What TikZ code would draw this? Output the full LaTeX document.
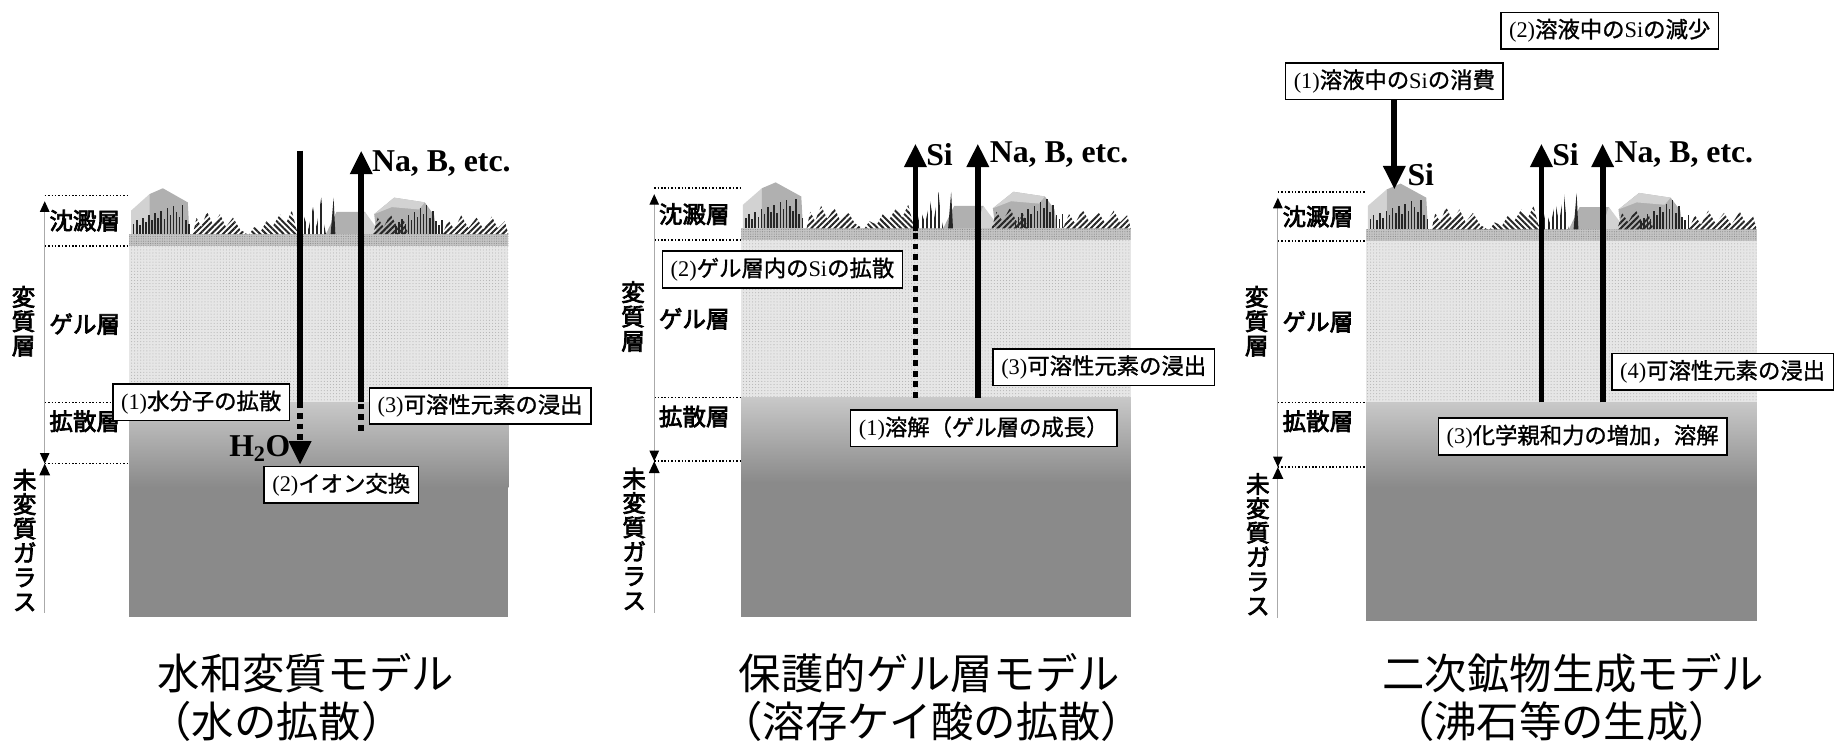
\documentclass[tikz,border=0pt]{standalone}
\usepackage{fontspec}
\setmainfont{Liberation Serif}
\newfontfamily\jp{Noto Sans CJK JP}
\newfontfamily\jpmid[FakeBold=1.2]{Noto Sans CJK JP}
\newfontfamily\jpthick[FakeBold=3]{Noto Sans CJK JP}
\usetikzlibrary{arrows.meta,patterns.meta}

\definecolor{gelgray}{RGB}{230,230,230}
\definecolor{crustgray}{RGB}{196,196,196}
\definecolor{difftop}{RGB}{200,200,200}
\definecolor{glassgray}{RGB}{138,138,138}
\definecolor{xtallight}{RGB}{210,210,210}
\definecolor{xtaldark}{RGB}{176,176,176}
\definecolor{scalegray}{RGB}{170,170,170}

\tikzset{
  zonelabel/.style={font=\jpthick\fontsize{20}{21}\selectfont, inner sep=0pt},
  zonecolumn/.style={font=\jpthick\fontsize{20}{20.7}\selectfont, align=center, inner sep=0pt},
  procbox/.style={draw, fill=white, line width=1.4pt, inner xsep=7pt,
    minimum height=31pt, font=\fontsize{19}{21}\selectfont},
  elem/.style={font=\bfseries\fontsize{27}{29}\selectfont, inner sep=0pt},
  modeltitle/.style={font=\jp\fontsize{36}{40}\selectfont, inner sep=0pt},
  flow/.style={line width=5pt},
  leak/.style={line width=5pt, dash pattern=on 5pt off 4pt},
  headed/.style={-{Triangle[width=18pt,length=20pt]}},
  guide/.style={line width=1.3pt, dash pattern=on 1.3pt off 1.6pt},
  scaleline/.style={draw=scalegray, line width=1pt},
  needle/.style={fill=black!85},
  tuft/.style={pattern={Lines[angle=#1,distance=3.5pt,line width=1.7pt]}, pattern color=black!85},
}

% crust of secondary minerals, drawn from the left end of the gel surface
\newcommand{\sedimentcrust}{%
  \fill[xtallight] (1.4,-10) -- (1.4,-30) -- (17,-44) -- (17,-10) -- cycle;
  \fill[xtaldark] (17,-44) -- (28.4,-49) -- (49.6,-37) -- (51,-10) -- (17,-10) -- cycle;
  \fill[xtaldark] (167,-10) -- (176,-29) -- (200,-29) -- (212,-10) -- cycle;
  \fill[xtallight] (200,-29) -- (214,-10) -- (194,-10) -- cycle;
  \fill[xtaldark] (210,-10) -- (208,-27) -- (225,-41) -- (251,-37) -- (259,-26) -- (261,-10) -- cycle;
  \fill[xtallight] (208,-27) -- (225,-41) -- (251,-37) -- (246,-31) -- (223,-33) -- cycle;
  \foreach \nx/\nh in {3/9,5.6/12,8.2/8,10.8/14,13.4/10,16/16,18.6/12,21.2/18,23.8/14,26.4/20,
      29/13,31.6/22,34.2/16,36.8/24,39.4/19,42/15,44.6/25,47.2/12,49.8/9}
    \fill[needle] (\nx,-10) rectangle ++(1.3,-\nh);
  \foreach \nx/\nh in {226/7,228.6/10,231.2/13,233.8/9,236.4/16,239/12,241.6/19,244.2/15,
      246.8/22,249.4/17,252/25,254.6/14,257.2/20,259.8/11,262.4/8,265/12}
    \fill[needle] (\nx,-10) rectangle ++(1.3,-\nh);
  \fill[tuft=45] (54,-10) -- (57,-24) -- (61,-16) -- (66,-29) -- (71,-18) -- (77,-27)
    -- (82,-16) -- (88,-24) -- (94,-14) -- (100,-10) -- cycle;
  \fill[tuft=-45] (102,-10) -- (106,-16) -- (112,-13) -- (117,-22) -- (122,-17) -- (128,-27)
    -- (133,-19) -- (138,-30) -- (142,-14) -- (145,-10) -- cycle;
  \fill[tuft=90] (145,-10) -- (148,-26) -- (152,-14) -- (156,-33) -- (159,-16) -- (163,-41)
    -- (165,-20) -- (167,-10) -- cycle;
  \fill[needle] (171,-10) -- (173.5,-41) -- (175,-10) -- cycle;
  \fill[tuft=45] (207,-10) -- (211,-24) -- (216,-16) -- (222,-27) -- (228,-15) -- (233,-22)
    -- (237,-10) -- cycle;
  \fill[tuft=45] (266,-10) -- (271,-22) -- (276,-14) -- (282,-26) -- (288,-15) -- (295,-24)
    -- (301,-14) -- (308,-25) -- (313,-15) -- (319,-21) -- (322,-10) -- cycle;
}

\begin{document}
\begin{tikzpicture}[x=1pt, y=-1pt]
\useasboundingbox (0,0) rectangle (1568,631);

% three glass columns with their layers, crust and depth scale
\foreach \pid/\axx/\colx/\colw/\ytop/\ygel/\ydif/\yglass/\ybot in
  {a/38/110/322/166/209/342/394/524,
   b/556/630/331/160/204/338/392/524,
   c/1086/1161/332/163/205/342/397/528}{
  \fill[crustgray] (\colx,\ygel-10) rectangle (\colx+\colw,\ygel);
  \fill[pattern={Dots[distance=2pt,radius=0.5pt]}, pattern color=black!45]
    (\colx,\ygel-10) rectangle (\colx+\colw,\ygel);
  \fill[gelgray] (\colx,\ygel) rectangle (\colx+\colw,\ydif);
  \fill[pattern={Dots[distance=2.6pt,radius=0.45pt]}, pattern color=black!30]
    (\colx,\ygel) rectangle (\colx+\colw,\ydif);
  \shade[top color=difftop, bottom color=glassgray] (\colx,\ydif) rectangle (\colx+\colw,\ydif+72);
  \fill[glassgray] (\colx,\ydif+71.5) rectangle (\colx+\colw,\ybot);
  \begin{scope}[shift={(\colx,\ygel)}, xscale=\colw/322]
    \sedimentcrust
  \end{scope}
  \foreach \yy in {\ytop,\ygel,\ydif,\yglass}
    \draw[guide] (\axx,\yy) -- (\colx,\yy);
  \coordinate (top\pid) at (\axx,\ytop+5);
  \coordinate (mid\pid) at (\axx,\yglass);
  \coordinate (bot\pid) at (\axx,\ybot-3);
  \draw[scaleline, {Triangle[color=black,width=8pt,length=9pt]}-{Triangle[color=black,width=8pt,length=9pt]}]
    (mid\pid) -- (top\pid);
  \draw[scaleline, {Triangle[color=black,width=9pt,length=10pt]}-] (mid\pid) -- (bot\pid);
  \node[zonelabel] (sed\pid) at (\axx+34,{(\ytop+\ygel)/2}) {沈澱層};
  \node[zonelabel] (gel\pid) at (\axx+34,{(\ygel+\ydif)/2}) {ゲル層};
  \node[zonelabel] (dif\pid) at (\axx+34,\ydif+16) {拡散層};
  \node[zonecolumn] (alt\pid) at (\axx-18,{(\ytop+\yglass)/2-7}) {変\\質\\層};
  \node[zonecolumn] (raw\pid) at (\axx-17,{(\yglass+\ybot)/2}) {未\\変\\質\\ガ\\ラ\\ス};
}

% hydration model
\coordinate (h2oin) at (255,128);
\coordinate (h2odif) at (255,342);
\coordinate (h2otip) at (255,395);
\draw[flow] (h2oin) -- (h2odif);
\draw[leak, headed] (h2odif) -- (h2otip);
\node[elem, anchor=east] (h2o) at (247,381) {H\textsubscript{2}O};
\coordinate (na1out) at (307,366);
\coordinate (na1dif) at (307,342);
\coordinate (na1tip) at (307,128);
\draw[leak] (na1out) -- (na1dif);
\draw[flow, headed] (na1dif) -- (na1tip);
\node[elem, anchor=west] (na1) at (316,139) {Na, B, etc.};
\node[procbox] (a1) at (171,342) {(1){\jpmid 水分子の拡散}};
\node[procbox] (a3) at (408,345) {(3){\jpmid 可溶性元素の浸出}};
\node[procbox] (a2) at (290,412) {(2){\jpmid イオン交換}};

% protective gel model
\coordinate (si2dif) at (778,338);
\coordinate (si2crust) at (778,196);
\coordinate (si2tip) at (778,122);
\draw[leak] (si2dif) -- (si2crust);
\draw[flow, headed] (si2crust) -- (si2tip);
\node[elem, anchor=west] (si2) at (787,131) {Si};
\coordinate (na2dif) at (831,338);
\coordinate (na2tip) at (831,122);
\draw[flow, headed] (na2dif) -- (na2tip);
\node[elem, anchor=west] (na2) at (841,131) {Na, B, etc.};
\node[procbox] (b2) at (665,229) {(2){\jpmid ゲル層内の}Si{\jpmid の拡散}};
\node[procbox] (b3) at (938,312) {(3){\jpmid 可溶性元素の浸出}};
\node[procbox] (b1) at (836,364) {(1){\jpmid 溶解（ゲル層の成長）}};

% secondary mineral model
\node[procbox] (c2) at (1368,26) {(2){\jpmid 溶液中の}Si{\jpmid の減少}};
\node[procbox] (c1) at (1185,69) {(1){\jpmid 溶液中の}Si{\jpmid の消費}};
\coordinate (si3in) at (1185,161);
\draw[flow, headed] (c1.south) -- (si3in);
\node[elem, anchor=west] (si3a) at (1196,148) {Si};
\coordinate (si3dif) at (1310,342);
\coordinate (si3tip) at (1310,122);
\draw[flow, headed] (si3dif) -- (si3tip);
\node[elem, anchor=west] (si3b) at (1319,131) {Si};
\coordinate (na3dif) at (1362,342);
\coordinate (na3tip) at (1362,122);
\draw[flow, headed] (na3dif) -- (na3tip);
\node[elem, anchor=west] (na3) at (1372,131) {Na, B, etc.};
\node[procbox] (c4) at (1464,316) {(4){\jpmid 可溶性元素の浸出}};
\node[procbox] (c3) at (1345,371) {(3){\jpmid 化学親和力の増加，溶解}};

% model names
\node[modeltitle] (ta1) at (260,572) {水和変質モデル};
\node[modeltitle] (ta2) at (235,613) {（水の拡散）};
\node[modeltitle] (tb1) at (790,572) {保護的ゲル層モデル};
\node[modeltitle] (tb2) at (792,613) {（溶存ケイ酸の拡散）};
\node[modeltitle] (tc1) at (1337,572) {二次鉱物生成モデル};
\node[modeltitle] (tc2) at (1327,613) {（沸石等の生成）};
\end{tikzpicture}
\end{document}
